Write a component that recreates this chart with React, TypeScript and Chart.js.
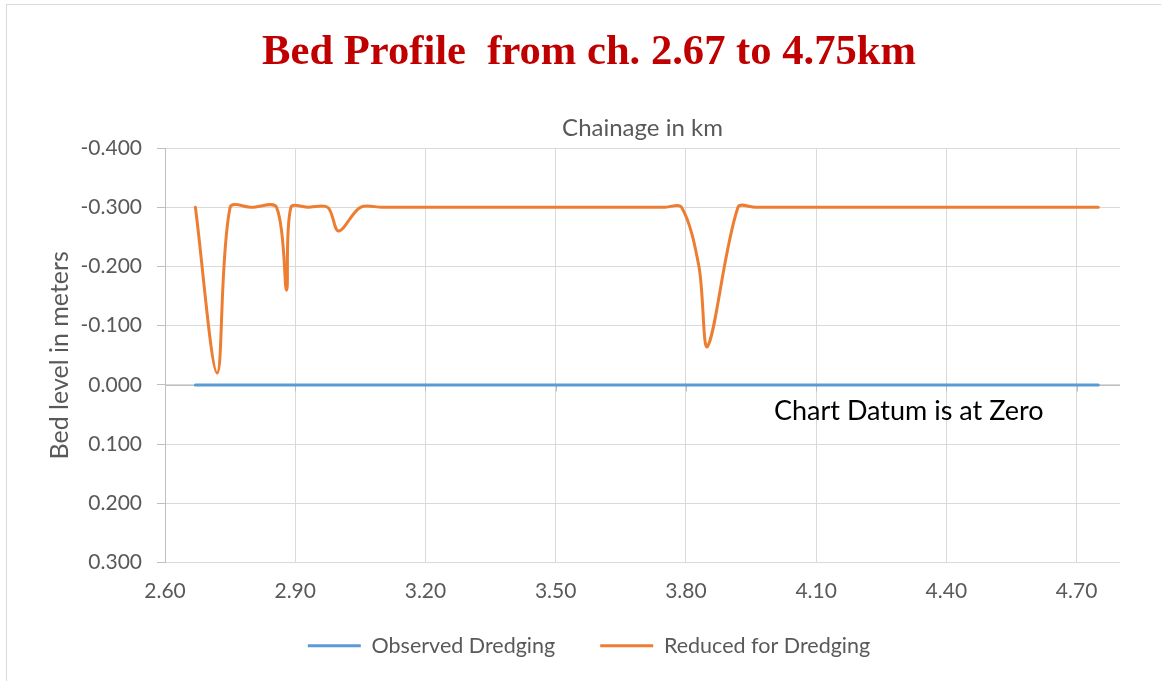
import React, { useEffect, useRef } from 'react';
import { Chart, registerables } from 'chart.js';

Chart.register(...registerables);

// ---- data ----
const chainage = [
  2.67, 2.72, 2.75, 2.80, 2.857, 2.88, 2.89, 2.93, 2.975, 3.00, 3.05, 3.10,
  3.20, 3.30, 3.40, 3.50, 3.60, 3.70, 3.75, 3.79, 3.83, 3.85, 3.92, 3.96,
  4.00, 4.10, 4.20, 4.30, 4.40, 4.50, 4.60, 4.70, 4.75,
];
const reducedForDredging = [
  -0.30, -0.02, -0.30, -0.30, -0.30, -0.16, -0.30, -0.30, -0.30, -0.26, -0.30, -0.30,
  -0.30, -0.30, -0.30, -0.30, -0.30, -0.30, -0.30, -0.30, -0.20, -0.065, -0.30, -0.30,
  -0.30, -0.30, -0.30, -0.30, -0.30, -0.30, -0.30, -0.30, -0.30,
];
const observedDredging = [
  0, 0, 0, 0, 0, 0, 0, 0, 0, 0, 0, 0,
  0, 0, 0, 0, 0, 0, 0, 0, 0, 0, 0, 0,
  0, 0, 0, 0, 0, 0, 0, 0, 0,
];
const seriesNames = ['Observed Dredging', 'Reduced for Dredging'];
const xTickValues = [2.6, 2.9, 3.2, 3.5, 3.8, 4.1, 4.4, 4.7];
const xTickLabels = ['2.60', '2.90', '3.20', '3.50', '3.80', '4.10', '4.40', '4.70'];
const yTickValues = [-0.4, -0.3, -0.2, -0.1, 0, 0.1, 0.2, 0.3];
const yTickLabels = ['-0.400', '-0.300', '-0.200', '-0.100', '0.000', '0.100', '0.200', '0.300'];
const chartTitle = 'Bed Profile  from ch. 2.67 to 4.75km';
const xAxisTitle = 'Chainage in km';
const yAxisTitle = 'Bed level in meters';
const datumNote = 'Chart Datum is at Zero';

const SANS = 'Lato, "Open Sans", sans-serif';
const GREY_TEXT = '#595959';

const extrasPlugin = {
  id: 'extras',
  beforeDatasetsDraw(chart: any) {
    const { ctx, chartArea, scales } = chart;
    const y0 = Math.round(scales.y.getPixelForValue(0)) + 0.5;
    ctx.save();
    ctx.strokeStyle = '#bfbfbf';
    ctx.lineWidth = 1;
    ctx.beginPath();
    ctx.moveTo(chartArea.left, y0);
    ctx.lineTo(chartArea.right, y0);
    xTickValues.forEach((v) => {
      const x = Math.round(scales.x.getPixelForValue(v)) + 0.5;
      ctx.moveTo(x, y0);
      ctx.lineTo(x, y0 + 6);
    });
    ctx.stroke();
    ctx.restore();
  },
  afterDraw(chart: any) {
    const { ctx, chartArea } = chart;
    ctx.save();
    ctx.fillStyle = '#000000';
    ctx.font = `27px ${SANS}`;
    ctx.textAlign = 'left';
    ctx.textBaseline = 'alphabetic';
    ctx.fillText(datumNote, chartArea.left + 609, 415);
    ctx.restore();
  },
};

export default function App() {
  const canvasRef = useRef<HTMLCanvasElement | null>(null);

  useEffect(() => {
    const canvas = canvasRef.current;
    if (!canvas) return;
    const chart = new Chart(canvas, {
      type: 'line',
      data: {
        datasets: [
          {
            label: seriesNames[0],
            data: chainage.map((x, i) => ({ x, y: observedDredging[i] })),
            borderColor: '#5B9BD5',
            backgroundColor: '#5B9BD5',
            borderWidth: 3,
            borderCapStyle: 'round',
            pointRadius: 0,
            tension: 0.33,
          },
          {
            label: seriesNames[1],
            data: chainage.map((x, i) => ({ x, y: reducedForDredging[i] })),
            borderColor: '#ED7D31',
            backgroundColor: '#ED7D31',
            borderWidth: 3,
            borderCapStyle: 'round',
            pointRadius: 0,
            tension: 0.33,
          },
        ],
      },
      options: {
        responsive: false,
        animation: false,
        devicePixelRatio: 1,
        layout: { padding: { left: 51, right: 51, top: 0, bottom: 18.5 } },
        scales: {
          x: {
            type: 'linear',
            min: 2.6,
            max: 4.8,
            afterBuildTicks: (s: any) => {
              s.ticks = xTickValues.map((v) => ({ value: v }));
            },
            afterFit: (s: any) => {
              s.height = 27.5;
            },
            ticks: {
              callback: (_v: any, i: number) => xTickLabels[i],
              color: GREY_TEXT,
              font: { family: SANS, size: 21 },
              mirror: true,
              padding: -41.6,
              maxRotation: 0,
              autoSkip: false,
            },
            grid: { color: '#d9d9d9', lineWidth: 1, drawTicks: false },
            border: { display: false },
          },
          y: {
            type: 'linear',
            min: -0.4,
            max: 0.3,
            reverse: true,
            afterBuildTicks: (s: any) => {
              s.ticks = yTickValues.map((v) => ({ value: v }));
            },
            afterFit: (s: any) => {
              s.width = 107;
            },
            ticks: {
              callback: (_v: any, i: number) => yTickLabels[i],
              color: GREY_TEXT,
              font: { family: SANS, size: 21 },
              padding: 15,
              autoSkip: false,
            },
            grid: { color: '#d9d9d9', lineWidth: 1, drawTicks: true, tickLength: 8, tickColor: '#bfbfbf' },
            border: { display: true, color: '#bfbfbf', width: 1 },
            title: {
              display: true,
              text: yAxisTitle,
              color: GREY_TEXT,
              font: { family: SANS, size: 25 },
              padding: { top: -13, bottom: 0 },
            },
          },
        },
        plugins: {
          title: {
            display: true,
            text: chartTitle,
            color: '#C00000',
            font: { family: '"Liberation Serif", "Times New Roman", serif', size: 42.6, weight: 'bold' },
            padding: { top: 22.5, bottom: 0 },
          },
          subtitle: {
            display: true,
            text: xAxisTitle,
            color: GREY_TEXT,
            fullSize: false,
            font: { family: SANS, size: 24, weight: 'normal' },
            padding: { top: 35.1, bottom: 5.6 },
          },
          legend: {
            position: 'bottom',
            labels: {
              color: GREY_TEXT,
              font: { family: SANS, size: 21.5 },
              boxWidth: 53,
              boxHeight: 0,
              padding: 45,
            },
          },
          tooltip: { enabled: false },
        },
      } as any,
      plugins: [extrasPlugin],
    });
    return () => chart.destroy();
  }, []);

  return (
    <div style={{ position: 'fixed', left: 0, top: 0, width: 1161, height: 681, overflow: 'hidden', background: '#ffffff' }}>
      <div
        style={{
          position: 'absolute',
          left: 6,
          top: 4,
          width: 1166,
          height: 690,
          border: '1px solid #d9d9d9',
          boxSizing: 'border-box',
        }}
      >
        <canvas ref={canvasRef} width={1164} height={680} style={{ display: 'block', position: 'absolute', left: 0, top: 0 }} />
      </div>
    </div>
  );
}
